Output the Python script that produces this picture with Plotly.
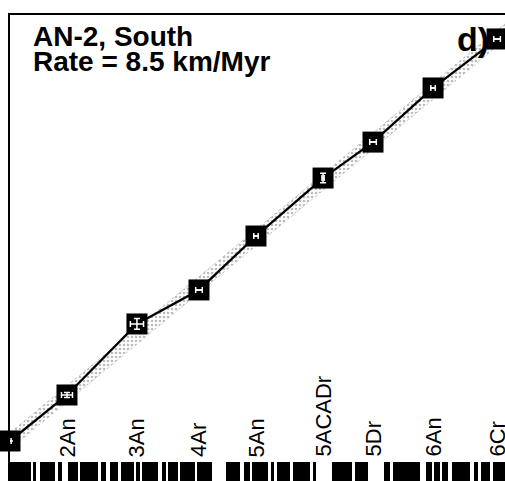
import plotly.graph_objs as go

# chron ages (Myr) and distances (km) of the picks
age = [0.0, 2.59, 5.77, 8.59, 11.18, 14.23, 16.50, 19.23, 22.14]
dist = [0.0, 21.5, 54.7, 70.6, 95.8, 122.9, 139.7, 165.0, 187.9]
age_err = [0.05, 0.25, 0.3, 0.15, 0.1, 0.05, 0.15, 0.1, 0.15]
dist_err = [0, 1.2, 2.5, 0, 0, 2.2, 0, 0, 0]

chron_labels = ['2An', '3An', '4Ar', '5An', '5ACADr', '5Dr', '6An', '6Cr']
chron_ages = [2.59, 5.77, 8.59, 11.18, 14.23, 16.50, 19.23, 22.14]

rate = 8.5  # km/Myr
band = 3.8  # km half width of fit band

# normal polarity intervals (Myr)
normal_start = [0.00, 1.045, 1.36, 2.18, 2.64, 3.18, 4.14, 4.55, 5.05, 5.73, 6.00, 6.91,
                7.18, 7.73, 8.50, 9.82, 10.64, 11.00, 11.86, 12.14, 12.86, 13.77, 14.64,
                15.68, 17.00, 17.41, 18.91, 19.27, 19.64, 20.09, 21.09, 21.41, 21.95]
normal_end = [0.955, 1.18, 2.05, 2.36, 3.09, 4.00, 4.36, 4.91, 5.64, 5.91, 6.73, 7.09,
              7.64, 8.41, 9.18, 10.45, 10.91, 11.73, 12.00, 12.73, 13.64, 13.91, 15.55,
              16.27, 17.27, 18.64, 19.18, 19.55, 19.91, 20.91, 21.27, 21.82, 22.60]

fit_x = [0, 23]
font = 'Liberation Sans, Arial, sans-serif'

data = []
# stippled band around the fitted rate
data.append(go.Scatter(x=fit_x, y=[rate * a - band for a in fit_x], mode='lines',
                       line=dict(color='rgba(150,150,150,0.4)', width=1, dash='dot'),
                       hoverinfo='skip'))
data.append(go.Scatter(x=fit_x, y=[rate * a + band for a in fit_x], mode='lines',
                       line=dict(color='rgba(150,150,150,0.5)', width=1, dash='dot'),
                       fill='tonexty', fillcolor='rgba(0,0,0,0)',
                       fillpattern=dict(shape='.', fgcolor='#7a7a7a', size=4, solidity=0.35),
                       hoverinfo='skip'))
# picks
data.append(go.Scatter(x=age, y=dist, mode='lines+markers',
                       line=dict(color='black', width=2.3),
                       marker=dict(symbol='square', size=21, color='black'),
                       cliponaxis=False))
# white error bars drawn on top of the squares
data.append(go.Scatter(x=age, y=dist, mode='markers',
                       marker=dict(size=1, color='rgba(0,0,0,0)'),
                       error_x=dict(type='data', array=age_err, color='white', thickness=1.5, width=3),
                       error_y=dict(type='data', array=dist_err, color='white', thickness=1.5, width=3),
                       cliponaxis=False))
# polarity timescale
data.append(go.Bar(orientation='h', y=[-14.3] * len(normal_start),
                   base=normal_start,
                   x=[e - s for s, e in zip(normal_start, normal_end)],
                   width=8.9, marker=dict(color='black', line=dict(width=0))))

annotations = []
for lab, a in zip(chron_labels, chron_ages):
    annotations.append(dict(x=a, y=-8.4, xref='x', yref='y', text=lab, showarrow=False,
                            textangle=-90, xanchor='center', yanchor='bottom',
                            font=dict(family=font, size=22, color='black')))
annotations.append(dict(x=0.042, y=0.991, xref='paper', yref='paper', text='<b>AN-2, South</b>',
                        showarrow=False, xanchor='left', yanchor='top',
                        font=dict(family=font, size=28, color='black')))
annotations.append(dict(x=0.042, y=0.937, xref='paper', yref='paper', text='<b>Rate = 8.5 km/Myr</b>',
                        showarrow=False, xanchor='left', yanchor='top',
                        font=dict(family=font, size=28, color='black')))
annotations.append(dict(x=0.972, y=0.994, xref='paper', yref='paper', text='<b>d)</b>',
                        showarrow=False, xanchor='right', yanchor='top',
                        font=dict(family=font, size=34, color='black')))

layout = go.Layout(
    width=505, height=481,
    margin=dict(l=10, r=0, t=15, b=0),
    paper_bgcolor='white', plot_bgcolor='white',
    showlegend=False,
    xaxis=dict(range=[0, 22.5], side='top', showline=True, linecolor='black', linewidth=2,
               showgrid=False, zeroline=False, showticklabels=False, ticks=''),
    yaxis=dict(range=[-18.7, 199.1], showline=True, linecolor='black', linewidth=2,
               showgrid=False, zeroline=False, showticklabels=False, ticks=''),
    bargap=0,
    annotations=annotations,
)
fig = go.Figure(data=data, layout=layout)
fig.write_html('out.html', config={'displayModeBar': False},
               post_script="document.body.style.margin='0';")
